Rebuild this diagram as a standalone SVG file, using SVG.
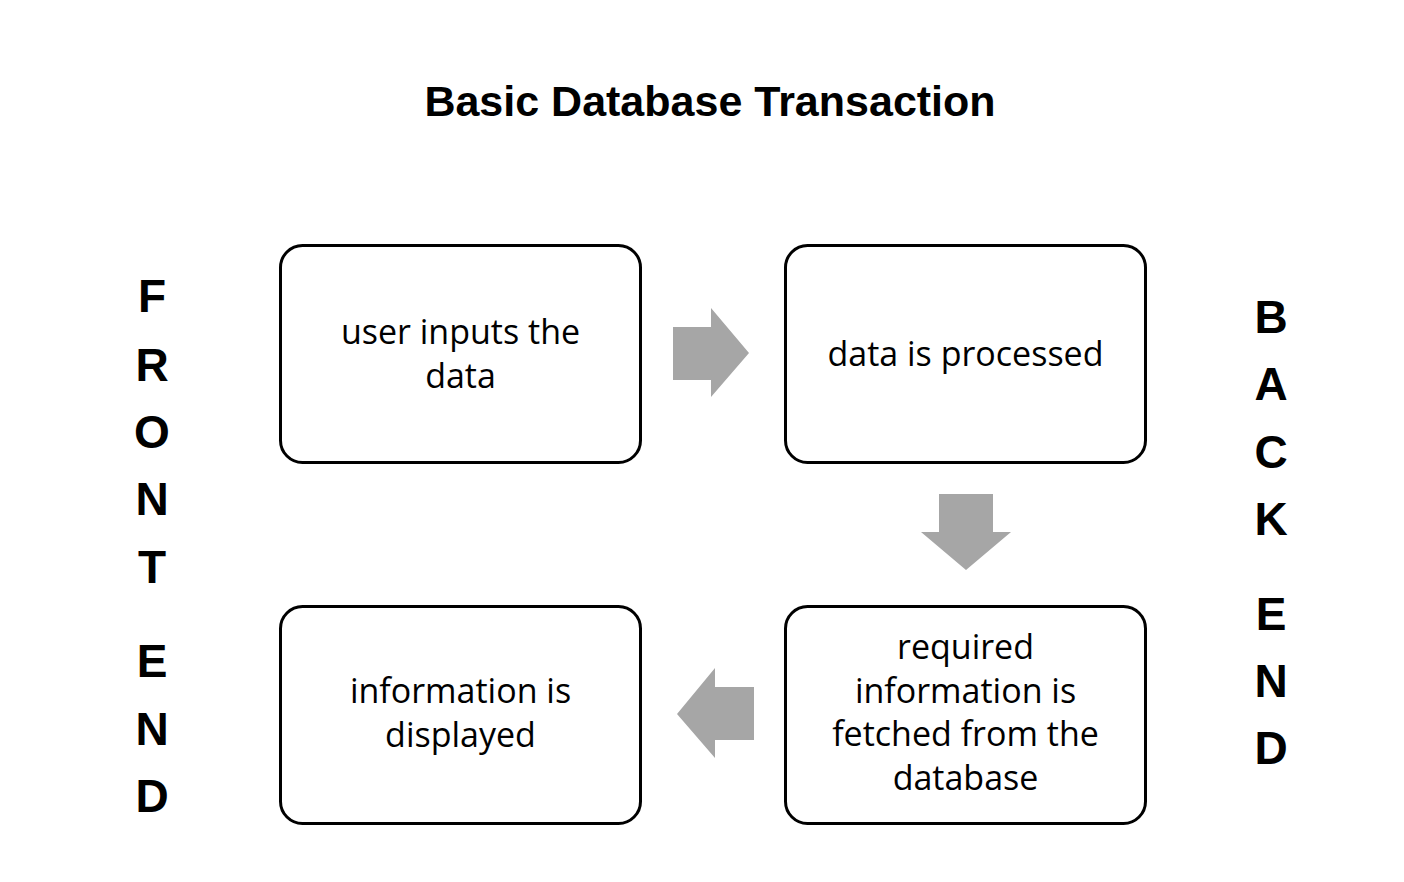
<svg xmlns="http://www.w3.org/2000/svg" width="1404" height="882" viewBox="0 0 1404 882">
<style>
.box{fill:#fff;stroke:#000;stroke-width:3}
.lbl{font-family:"Open Sans","Liberation Sans",sans-serif;font-size:34px;fill:#000;text-anchor:middle}
.side{font-family:"Liberation Sans",Arial,sans-serif;font-weight:bold;font-size:46px;fill:#000;text-anchor:middle}
.title{font-family:"Liberation Sans",Arial,sans-serif;font-weight:bold;font-size:43px;fill:#000;text-anchor:middle}
.arr{fill:#A6A6A6}
</style>
<rect width="1404" height="882" fill="#fff"/>
<text class="title" x="710" y="116">Basic Database Transaction</text>
<g id="frontend">
<text class="side" x="152" y="312">F</text>
<text class="side" x="152" y="381">R</text>
<text class="side" x="152" y="448">O</text>
<text class="side" x="152" y="515">N</text>
<text class="side" x="152" y="583">T</text>
<text class="side" x="152" y="677">E</text>
<text class="side" x="152" y="745">N</text>
<text class="side" x="152" y="812">D</text>
</g>
<g id="backend">
<text class="side" x="1271" y="333">B</text>
<text class="side" x="1271" y="400">A</text>
<text class="side" x="1271" y="468">C</text>
<text class="side" x="1271" y="535">K</text>
<text class="side" x="1271" y="630">E</text>
<text class="side" x="1271" y="697">N</text>
<text class="side" x="1271" y="764">D</text>
</g>
<g id="connectors">
<polygon class="arr" points="673,327 711,327 711,308 749,353 711,397 711,380 673,380"/>
<polygon class="arr" points="939,494 993,494 993,532 1011,532 966,570 921,532 939,532"/>
<polygon class="arr" points="754,687 715,687 715,668 677,714 715,758 715,740 754,740"/>
</g>
<g id="n1">
<rect class="box" x="280.5" y="245.5" width="360" height="217" rx="22"/>
<text class="lbl" x="460.5" y="344">user inputs the</text>
<text class="lbl" x="460.5" y="388">data</text>
</g>
<g id="n2">
<rect class="box" x="785.5" y="245.5" width="360" height="217" rx="22"/>
<text class="lbl" x="965.5" y="366">data is processed</text>
</g>
<g id="n3">
<rect class="box" x="785.5" y="606.5" width="360" height="217" rx="22"/>
<text class="lbl" x="965.5" y="659">required</text>
<text class="lbl" x="965.5" y="703">information is</text>
<text class="lbl" x="965.5" y="746">fetched from the</text>
<text class="lbl" x="965.5" y="790">database</text>
</g>
<g id="n4">
<rect class="box" x="280.5" y="606.5" width="360" height="217" rx="22"/>
<text class="lbl" x="460.5" y="703">information is</text>
<text class="lbl" x="460.5" y="747">displayed</text>
</g>
</svg>
